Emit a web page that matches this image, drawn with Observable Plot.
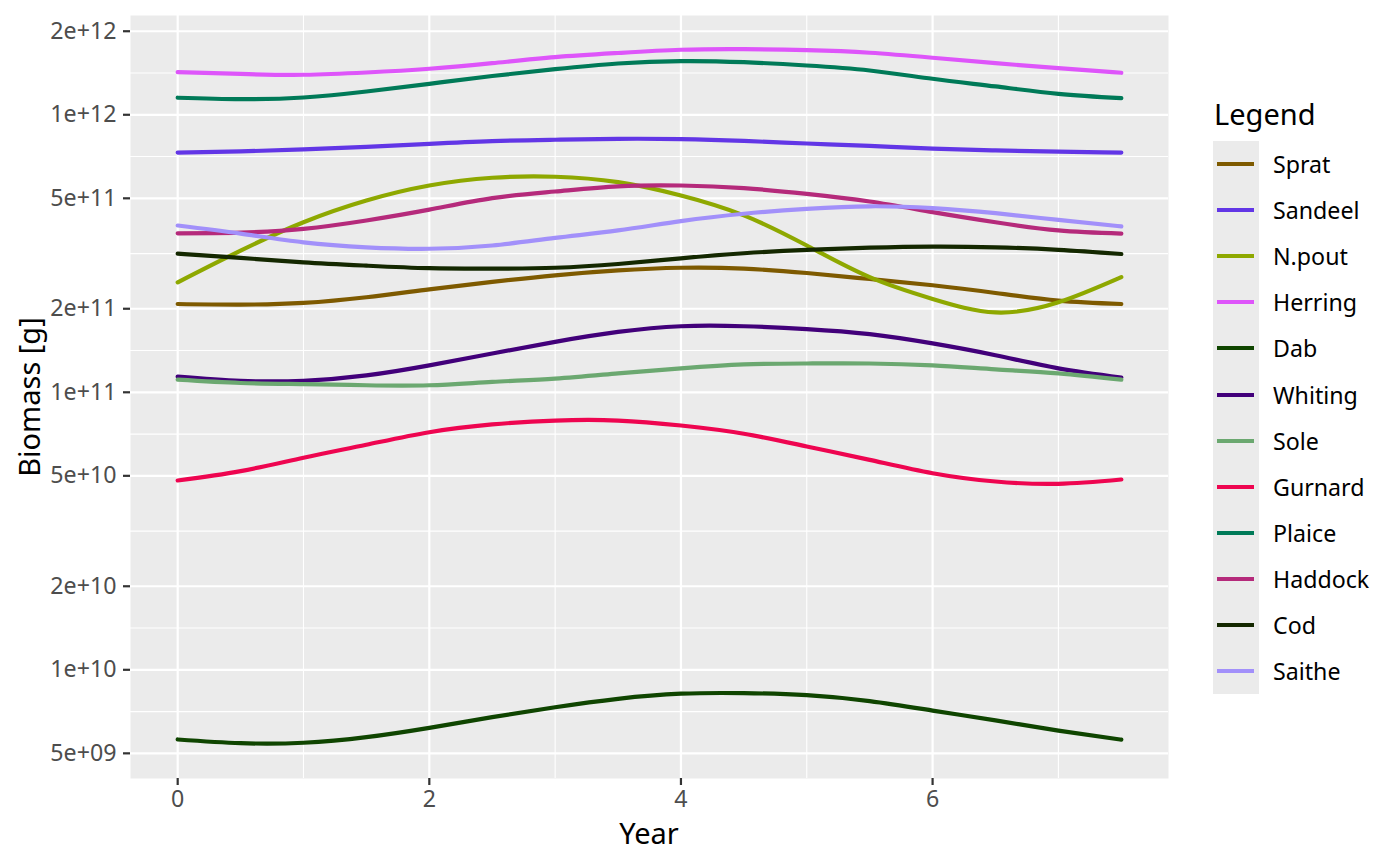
<!DOCTYPE html>
<html>
<head>
<meta charset="utf-8">
<script src="https://cdn.jsdelivr.net/npm/d3@7"></script>
<script src="https://cdn.jsdelivr.net/npm/@observablehq/plot@0.6"></script>
<style>
  body { margin: 0; background: #fff; font-family: "Noto Sans", sans-serif; }
  #wrap { position: relative; width: 1400px; height: 865px; overflow: hidden; }
  #wrap svg { position: absolute; left: 0; top: 0; }
  .ttl { position: absolute; white-space: nowrap; line-height: 1; color: #000; }
  .lab { position: absolute; white-space: nowrap; line-height: 1; color: #000; font-size: 23.2px; transform: translateY(-50%); }
  .key { position: absolute; height: 4px; }
</style>
</head>
<body>
<div id="wrap"></div>
<script>
// ---- data ----
const years = [0, 0.5, 1, 1.5, 2, 2.5, 3, 3.5, 4, 4.5, 5, 5.5, 6, 6.5, 7, 7.5];

const species = ["Sprat", "Sandeel", "N.pout", "Herring", "Dab", "Whiting", "Sole", "Gurnard", "Plaice", "Haddock", "Cod", "Saithe"];
const colors  = ["#7E5A00", "#6236E6", "#8EA800", "#DE55FA", "#0F4500", "#42007A", "#6BA870", "#EE0550", "#007A58", "#B52A7B", "#142800", "#A290FA"];

const Sprat   = [2.08e11, 2.07e11, 2.10e11, 2.20e11, 2.35e11, 2.50e11, 2.64e11, 2.75e11, 2.81e11, 2.79e11, 2.69e11, 2.56e11, 2.43e11, 2.28e11, 2.14e11, 2.08e11];
const Sandeel = [7.31e11, 7.38e11, 7.50e11, 7.66e11, 7.86e11, 8.04e11, 8.13e11, 8.19e11, 8.17e11, 8.05e11, 7.88e11, 7.72e11, 7.55e11, 7.44e11, 7.36e11, 7.31e11];
const Npout   = [2.49e11, 3.24e11, 4.10e11, 4.91e11, 5.56e11, 5.93e11, 5.98e11, 5.72e11, 5.12e11, 4.34e11, 3.38e11, 2.60e11, 2.17e11, 1.94e11, 2.11e11, 2.60e11];
const Herring = [1.424e12, 1.403e12, 1.394e12, 1.420e12, 1.465e12, 1.534e12, 1.613e12, 1.670e12, 1.715e12, 1.724e12, 1.709e12, 1.673e12, 1.605e12, 1.534e12, 1.472e12, 1.417e12];
const Dab     = [5.61e9, 5.44e9, 5.46e9, 5.72e9, 6.18e9, 6.75e9, 7.33e9, 7.86e9, 8.20e9, 8.24e9, 8.10e9, 7.71e9, 7.13e9, 6.57e9, 6.04e9, 5.60e9];
const Whiting = [1.14e11, 1.10e11, 1.10e11, 1.15e11, 1.25e11, 1.38e11, 1.52e11, 1.65e11, 1.73e11, 1.73e11, 1.69e11, 1.62e11, 1.50e11, 1.36e11, 1.22e11, 1.13e11];
const Sole    = [1.11e11, 1.08e11, 1.07e11, 1.06e11, 1.06e11, 1.09e11, 1.12e11, 1.17e11, 1.22e11, 1.26e11, 1.27e11, 1.27e11, 1.25e11, 1.21e11, 1.17e11, 1.11e11];
const Gurnard = [4.81e10, 5.20e10, 5.81e10, 6.47e10, 7.18e10, 7.66e10, 7.91e10, 7.91e10, 7.59e10, 7.09e10, 6.38e10, 5.71e10, 5.11e10, 4.77e10, 4.68e10, 4.85e10];
const Plaice  = [1.152e12, 1.138e12, 1.154e12, 1.213e12, 1.293e12, 1.380e12, 1.460e12, 1.530e12, 1.561e12, 1.547e12, 1.505e12, 1.444e12, 1.348e12, 1.265e12, 1.190e12, 1.148e12];
const Haddock = [3.74e11, 3.76e11, 3.88e11, 4.16e11, 4.55e11, 5.01e11, 5.29e11, 5.52e11, 5.56e11, 5.44e11, 5.19e11, 4.87e11, 4.46e11, 4.10e11, 3.83e11, 3.73e11];
const Cod     = [3.16e11, 3.05e11, 2.94e11, 2.86e11, 2.80e11, 2.79e11, 2.81e11, 2.90e11, 3.04e11, 3.17e11, 3.26e11, 3.32e11, 3.35e11, 3.33e11, 3.26e11, 3.15e11];
const Saithe  = [3.99e11, 3.73e11, 3.47e11, 3.33e11, 3.29e11, 3.38e11, 3.60e11, 3.83e11, 4.14e11, 4.40e11, 4.58e11, 4.68e11, 4.61e11, 4.42e11, 4.18e11, 3.96e11];

const xTicks = [0, 2, 4, 6];
const xMinor = [1, 3, 5, 7];
const yTicks = [5e9, 1e10, 2e10, 5e10, 1e11, 2e11, 5e11, 1e12, 2e12];
const yTickLabels = ["5e+09", "1e+10", "2e+10", "5e+10", "1e+11", "2e+11", "5e+11", "1e+12", "2e+12"];
const yMinor = [7.07e9, 1.414e10, 3.16e10, 7.07e10, 1.414e11, 3.16e11, 7.07e11, 1.414e12];

// ---- build table ----
const seriesValues = [Sprat, Sandeel, Npout, Herring, Dab, Whiting, Sole, Gurnard, Plaice, Haddock, Cod, Saithe];
const rows = [];
species.forEach((s, k) => {
  years.forEach((yr, i) => rows.push({species: s, year: yr, value: seriesValues[k][i]}));
});
const yLabelMap = new Map(yTicks.map((t, i) => [t, yTickLabels[i]]));

const chart = Plot.plot({
  width: 1400,
  height: 865,
  marginLeft: 130,
  marginRight: 232,
  marginTop: 15,
  marginBottom: 87,
  style: {fontFamily: "Noto Sans", fontSize: "23.2px", background: "transparent", overflow: "visible"},
  x: {domain: [-0.375, 7.875]},
  y: {type: "log", domain: [4.058e9, 2.279e12]},
  color: {domain: species, range: colors},
  marks: [
    Plot.frame({fill: "#EBEBEB", stroke: "none"}),
    Plot.gridY(yMinor, {stroke: "white", strokeOpacity: 1, strokeWidth: 1.1}),
    Plot.gridX(xMinor, {stroke: "white", strokeOpacity: 1, strokeWidth: 1.1}),
    Plot.gridY(yTicks, {stroke: "white", strokeOpacity: 1, strokeWidth: 2.2}),
    Plot.gridX(xTicks, {stroke: "white", strokeOpacity: 1, strokeWidth: 2.2}),
    Plot.axisY(yTicks, {tickSize: 7, tickPadding: 7, stroke: "#333333", strokeWidth: 2.2, fill: "#4D4D4D",
      tickFormat: d => yLabelMap.get(d), label: null}),
    Plot.axisX(xTicks, {tickSize: 7, tickPadding: 5, stroke: "#333333", strokeWidth: 2.2, fill: "#4D4D4D",
      tickFormat: d => String(d), label: null}),
    Plot.line(rows, {x: "year", y: "value", z: "species", stroke: "species", strokeWidth: 4.2, curve: "natural"})
  ]
});

const wrap = document.getElementById("wrap");
wrap.appendChild(chart);

// axis titles
const yt = document.createElement("div");
yt.className = "ttl";
yt.textContent = "Biomass [g]";
Object.assign(yt.style, {left: "28px", top: "396.5px", fontSize: "29px", transform: "translate(-50%,-50%) rotate(-90deg)"});
wrap.appendChild(yt);

const xt = document.createElement("div");
xt.className = "ttl";
xt.textContent = "Year";
Object.assign(xt.style, {left: "649px", top: "832px", fontSize: "29px", transform: "translate(-50%,-50%)"});
wrap.appendChild(xt);

// legend
const lt = document.createElement("div");
lt.className = "ttl";
lt.textContent = "Legend";
Object.assign(lt.style, {left: "1214px", top: "113px", fontSize: "29px", transform: "translateY(-50%)"});
wrap.appendChild(lt);

const keyTop = 141, keyH = 46.1;
const bg = document.createElement("div");
Object.assign(bg.style, {position: "absolute", left: "1213px", top: keyTop + "px", width: "46px", height: (keyH * species.length) + "px", background: "#EBEBEB"});
wrap.appendChild(bg);

species.forEach((s, i) => {
  const cy = keyTop + keyH * (i + 0.5);
  const k = document.createElement("div");
  k.className = "key";
  Object.assign(k.style, {left: "1217px", width: "37px", top: (cy - 2) + "px", background: colors[i]});
  wrap.appendChild(k);
  const l = document.createElement("div");
  l.className = "lab";
  l.textContent = s;
  Object.assign(l.style, {left: "1273px", top: (cy + 1) + "px"});
  wrap.appendChild(l);
});
</script>
</body>
</html>
